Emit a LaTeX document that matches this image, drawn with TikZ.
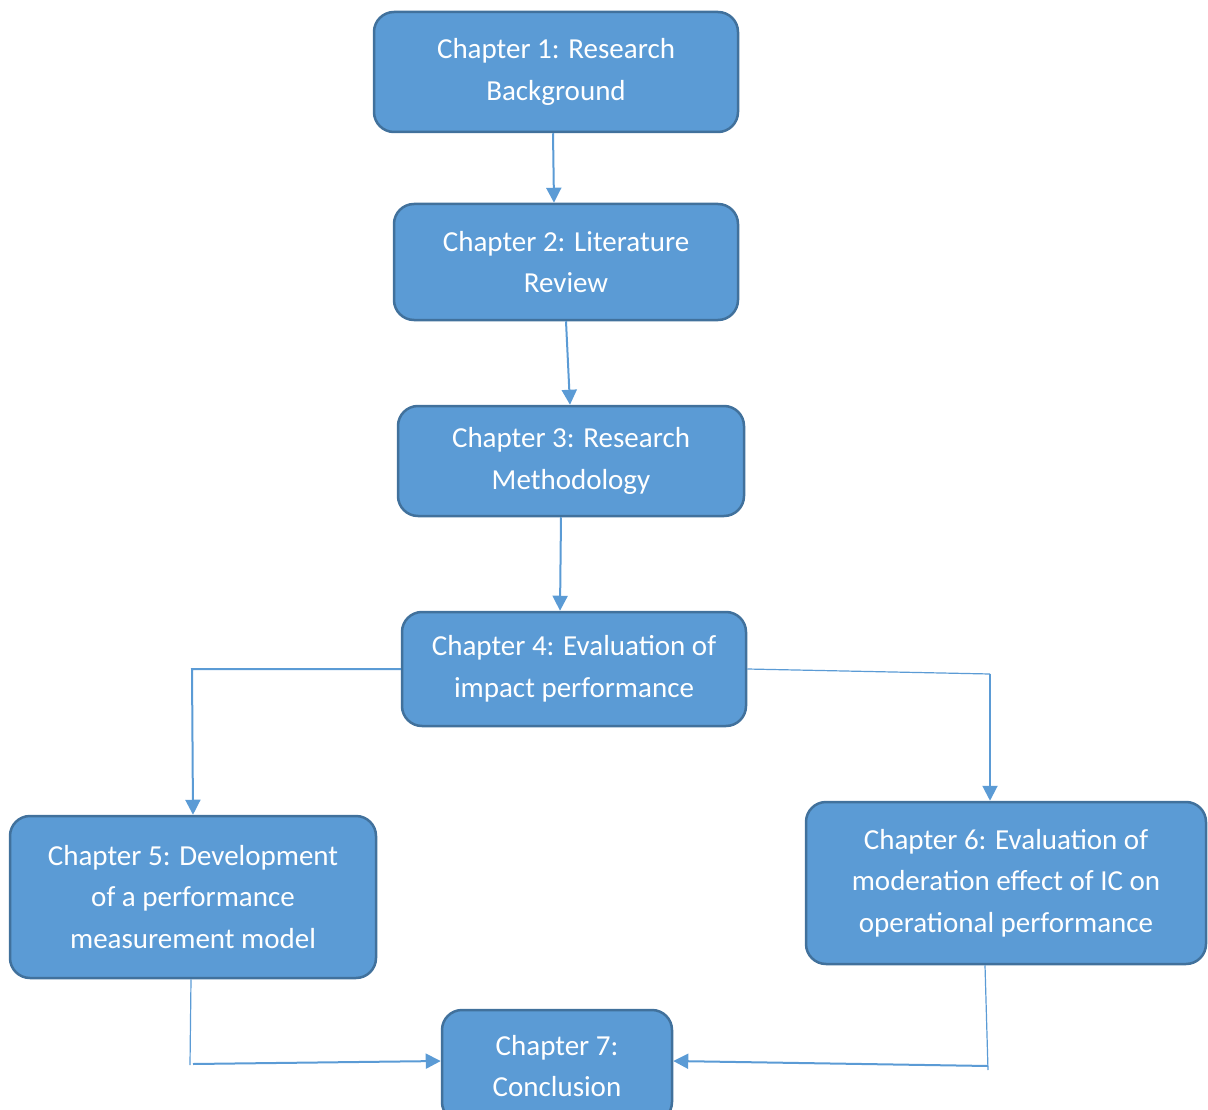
\documentclass[tikz,border=0pt]{standalone}
\usepackage{fontspec}
\setmainfont{Carlito}
\usetikzlibrary{arrows.meta}
\definecolor{boxfill}{HTML}{5B9BD5}
\definecolor{boxline}{HTML}{41719C}
\definecolor{conn}{HTML}{5B9BD5}
\begin{document}
\begin{tikzpicture}[x=1pt,y=-1pt,
  chbox/.style={draw=boxline, line width=2.5pt, fill=boxfill, rounded corners=20pt,
    text=white, align=center, inner sep=0pt,
    font=\fontsize{29}{41.5}\selectfont},
  link/.style={draw=conn, line width=2pt},
  thin/.style={draw=conn, line width=1.2pt},
  arr/.style={-{Triangle[length=15pt,width=15pt]}}
]
\useasboundingbox (0,0) rectangle (1208,1110);
\node[chbox, minimum width=364pt, minimum height=120pt] (b1) at (556,72) {Chapter 1: Research\\Background};
\node[chbox, minimum width=344pt, minimum height=116pt] (b2) at (566,262) {Chapter 2: Literature\\Review};
\node[chbox, minimum width=346pt, minimum height=110pt] (b3) at (571,461) {Chapter 3: Research\\Methodology};
\node[chbox, minimum width=344pt, minimum height=114pt] (b4) at (574,669) {Chapter 4: Evaluation of\\impact performance};
\node[chbox, minimum width=366pt, minimum height=162pt] (b5) at (193,897) {Chapter 5: Development\\of a performance\\measurement model};
\node[chbox, minimum width=400pt, minimum height=162pt] (b6) at (1006,883) {Chapter 6: Evaluation of\\moderation effect of IC on\\operational performance};
\node[chbox, minimum width=230pt, minimum height=112pt] (b7) at (557,1066) {Chapter 7:\\Conclusion};

\coordinate (c45) at (192,669);
\coordinate (c46) at (990,674);
\coordinate (c57a) at (190,1065);
\coordinate (c57b) at (193,1064);
\coordinate (c67a) at (988,1070);
\coordinate (c67b) at (988,1066);

\draw[link, arr] ([xshift=-3pt]b1.south) -- ([xshift=-12pt]b2.north);
\draw[link, arr] (b2.south) -- ([xshift=-1pt]b3.north);
\draw[link, arr] ([xshift=-10pt]b3.south) -- ([xshift=-14pt]b4.north);
\draw[link, arr] (b4.west) -- (c45) -- (b5.north);
\draw[thin] (b4.east) -- (c46);
\draw[link, arr] (c46) -- ([xshift=-16pt]b6.north);
\draw[thin] ([xshift=-2pt]b5.south) -- (c57a);
\draw[link, arr] (c57b) -- ([yshift=5pt]b7.west);
\draw[thin] ([xshift=-21pt]b6.south) -- (c67a);
\draw[link, arr] (c67b) -- ([yshift=5pt]b7.east);
\end{tikzpicture}
\end{document}
